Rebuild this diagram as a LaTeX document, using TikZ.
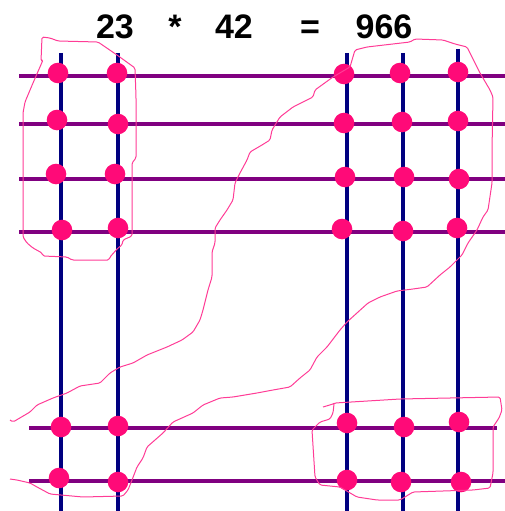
\documentclass[tikz,border=0pt]{standalone}
\usepackage{fontspec}
\setmainfont{Liberation Sans}
\usepackage{xcolor}
\usetikzlibrary{calc}
\definecolor{gridblue}{HTML}{000080}
\definecolor{gridpurple}{HTML}{800080}
\definecolor{dotpink}{HTML}{FF0A78}
\definecolor{penpink}{HTML}{FF3C96}

\begin{document}
\begin{tikzpicture}[x=1pt,y=-1pt,
    title/.style={anchor=base,font=\fontsize{34}{40}\selectfont\bfseries},
    pen/.style={penpink,line width=1pt,line join=round,rounded corners=1.5pt}]
      \useasboundingbox (0,0) rectangle (505,511);
      % equation
      \node[title] (a) at (115,38) {23};
      \node[title] (times) at (175,38) {*};
      \node[title] (b) at (234,38) {42};
      \node[title] (eq) at (310,38) {=};
      \node[title] (c) at (384,38) {966};
      % vertical lines
      \foreach \x/\t in {61/53,118/53,347/53,403/53,458/49} {
        \draw[gridblue,line width=4.5pt] (\x,\t) -- (\x,511);
      }
      % horizontal lines
      \foreach \y in {75.7,124,179,232.3} {
        \draw[gridpurple,line width=4pt] (19,\y) -- (505,\y);
      }
      \draw[gridpurple,line width=4pt] (29,427.7) -- (497,427.7);
      \draw[gridpurple,line width=4pt] (29,480.7) -- (505,480.7);
      % crossings
      \foreach \p in {(58,73),(117,73),(344,74),(400,73),(458,72),
                      (57,120),(118,124),(344,123),(402,122),(458,121),
                      (56,174),(115,174),(345,177),(404,177),(459,179),
                      (62,230),(118,228),(342,229),(403,231),(457,228),
                      (61,427),(118,426),(347,423),(404,427),(459,422),
                      (59,478),(118,482),(347,480),(401,482),(461,482)} {
        \fill[dotpink] \p circle (10.3pt);
      }
      % hand drawn groups
      \draw[pen] (42,37) -- (50,38) -- (58,41) -- (98,42) -- (117,55) -- (135,68)
        -- (136,97) -- (136,158) -- (132,163) -- (132,236) -- (123,240) -- (122,245)
        -- (118,248) -- (110,257) -- (109,260) -- (72,260) -- (67,257) -- (43,256)
        -- (42,253) -- (33,248) -- (27,243) -- (23,237) -- (23,113) -- (25,102)
        -- (33,83) -- (43,60) -- (41,61) -- cycle;
      \draw[pen] (10,420) -- (13,422) -- (30,412) -- (37,405) -- (53,398) -- (67,393)
        -- (80,386) -- (100,383) -- (110,373) -- (120,367) -- (133,363) -- (147,355)
        -- (167,347) -- (182,340) -- (193,332) -- (200,320) -- (203,310) -- (208,290)
        -- (212,277) -- (212,252) -- (215,243) -- (215,228) -- (220,220) -- (227,210)
        -- (233,200) -- (235,183) -- (240,173) -- (247,160) -- (250,152) -- (262,145)
        -- (270,140) -- (272,130) -- (280,117) -- (293,107) -- (313,97) -- (315,90)
        -- (333,77) -- (350,67) -- (355,50) -- (367,47) -- (410,42) -- (415,39)
        -- (443,40) -- (455,44) -- (467,47) -- (480,73) -- (490,90) -- (493,97)
        -- (492,150) -- (492,183) -- (488,210) -- (483,217) -- (477,230) -- (468,243)
        -- (462,255) -- (450,267) -- (440,275) -- (427,287) -- (413,289) -- (397,291)
        -- (380,297) -- (368,303) -- (347,322) -- (340,330) -- (327,347) -- (317,357)
        -- (310,370) -- (300,378) -- (290,387) -- (273,390) -- (257,393) -- (233,397)
        -- (220,398) -- (203,405) -- (193,413) -- (173,422) -- (163,433) -- (147,447)
        -- (143,458) -- (137,467) -- (132,480) -- (128,490) -- (123,496) -- (83,497)
        -- (50,494) -- (37,487) -- (30,483) -- (17,480) -- (10,479);
      \draw[pen] (323,407) -- (333,404) -- (335,403) -- (400,399) -- (500,397)
        -- (502,410) -- (499,418) -- (493,427) -- (493,473) -- (490,488) -- (473,490)
        -- (413,492) -- (400,500) -- (377,500) -- (357,497) -- (345,490) -- (340,487)
        -- (320,485) -- (315,477) -- (312,430) -- (315,427) -- (320,422) -- (330,419)
        -- (333,413) -- (334,404);
\end{tikzpicture}
\end{document}
